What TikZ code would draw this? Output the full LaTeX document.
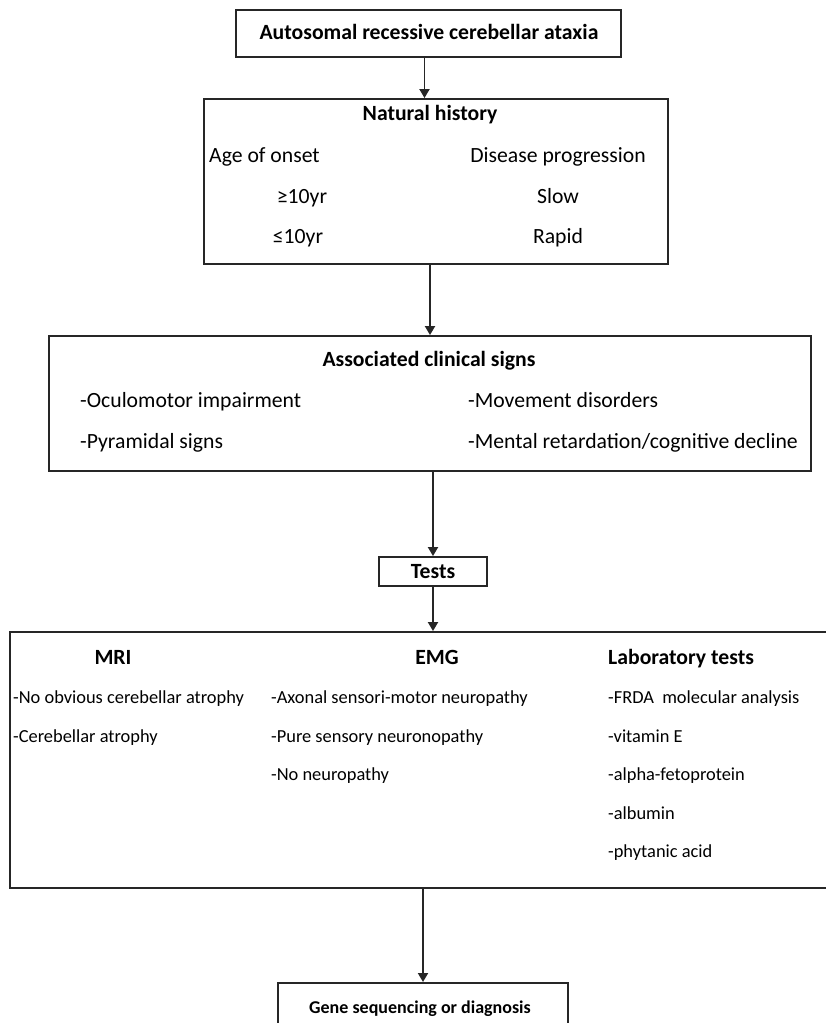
\documentclass[tikz,border=0pt]{standalone}
\usepackage{fontspec}
\setmainfont{Carlito}
\usetikzlibrary{arrows.meta}

\begin{document}
\begin{tikzpicture}[x=1pt,y=-1pt,
	box/.style={draw=black!85, line width=1.9pt, inner sep=0pt},
	txt/.style={inner sep=0pt, anchor=base, font=\fontsize{21.7}{26}\selectfont},
	head/.style={inner sep=0pt, anchor=base, font=\fontsize{21.7}{26}\selectfont\bfseries},
	item/.style={inner sep=0pt, anchor=base west, font=\fontsize{18.4}{22}\selectfont},
	link/.style={draw=black!85, line width=1.9pt, -{Triangle[length=9pt,width=10pt]}}]
	\useasboundingbox (0,0) rectangle (826,1023);
	\node[box, minimum width=385pt, minimum height=47pt] (top) at (428.5,33.5) {};
	\node[head] (topT) at (429,39.5) {Autosomal recessive cerebellar ataxia};
	\node[box, minimum width=464pt, minimum height=165pt] (hist) at (436,181.5) {};
	\node[head] (histT) at (430,120) {Natural history};
	\node[txt, anchor=base west] (age) at (209,162) {Age of onset};
	\node[txt] (prog) at (558,162) {Disease progression};
	\node[txt] (ageA) at (302,203) {≥10yr};
	\node[txt] (progA) at (558,203) {Slow};
	\node[txt] (ageB) at (298,243) {≤10yr};
	\node[txt] (progB) at (558,243) {Rapid};
	\node[box, minimum width=762pt, minimum height=135pt] (signs) at (430,403.5) {};
	\node[head] (signsT) at (429,366) {Associated clinical signs};
	\node[txt, anchor=base west] (oculo) at (80,407.5) {-Oculomotor impairment};
	\node[txt, anchor=base west] (pyra) at (80,448.5) {-Pyramidal signs};
	\node[txt, anchor=base west] (move) at (468,407.5) {-Movement disorders};
	\node[txt, anchor=base west] (mental) at (468,448.5) {-Mental retardation/cognitive decline};
	\node[box, minimum width=108pt, minimum height=29pt] (tests) at (433,571.5) {};
	\node[head] (testsT) at (433,578.5) {Tests};
	\node[box, minimum width=836pt, minimum height=256pt] (exams) at (428,760) {};
	\node[head] (mri) at (113,664) {MRI};
	\node[head] (emg) at (437,664) {EMG};
	\node[head, anchor=base west] (lab) at (608,664) {Laboratory tests};
	\foreach \t [count=\i] in {-No obvious cerebellar atrophy, -Cerebellar atrophy}
		\node[item] (mri\i) at (13,{665+38.5*\i}) {\t};
	\foreach \t [count=\i] in {-Axonal sensori-motor neuropathy, -Pure sensory neuronopathy, -No neuropathy}
		\node[item] (emg\i) at (271,{665+38.5*\i}) {\t};
	\foreach \t [count=\i] in {-FRDA~ molecular analysis, -vitamin E, -alpha-fetoprotein, -albumin, -phytanic acid}
		\node[item] (lab\i) at (608,{665+38.5*\i}) {\t};
	\node[box, anchor=north, minimum width=290pt, minimum height=60pt] (gene) at (423,982) {};
	\node[head, font=\fontsize{18}{22}\selectfont\bfseries] (geneT) at (420,1013) {Gene sequencing or diagnosis};
	\draw[link] ([xshift=-4pt]top.south) -- ([xshift=-4pt]top.south |- hist.north);
	\draw[link] (signs.north |- hist.south) -- (signs.north);
	\draw[link] (tests.north |- signs.south) -- (tests.north);
	\draw[link] (tests.south) -- (tests.south |- exams.north);
	\draw[link] (gene.north |- exams.south) -- (gene.north);
\end{tikzpicture}
\end{document}
